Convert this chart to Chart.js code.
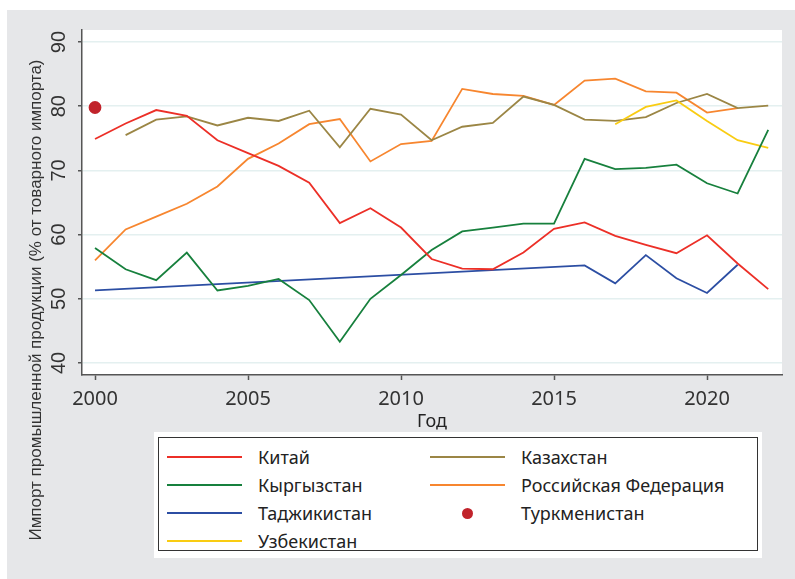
<!DOCTYPE html>
<html>
<head>
<meta charset="utf-8">
<script src="https://cdn.jsdelivr.net/npm/chart.js@4/dist/chart.umd.min.js"></script>
<style>
  body { margin: 0; background: #fff; }
  #wrap { position: relative; width: 795px; height: 579px; }
  #legend {
    position: absolute; left: 154px; top: 432px; width: 608px; height: 126px;
    background: #fff; box-sizing: border-box; padding: 5px 4px 7px 4px;
  }
  #legendBox {
    width: 100%; height: 100%; box-sizing: border-box; border: 1.5px solid #333;
    display: grid; grid-template-rows: repeat(4, 28px); grid-template-columns: 263px 1fr;
    grid-auto-flow: column; padding-top: 5px;
  }
  .item { display: flex; align-items: center; font: 18px "Noto Sans", sans-serif; color: #222; }
  .sample { width: 75px; margin-left: 8px; margin-right: 16px; display: flex; justify-content: center; }
  .line { width: 75px; height: 2px; }
  .dot { width: 11px; height: 11px; border-radius: 50%; }
</style>
</head>
<body>
<div id="wrap">
  <canvas id="chart" width="795" height="579"></canvas>
  <div id="legend"><div id="legendBox"></div></div>
</div>
<script>
const years = [2000, 2001, 2002, 2003, 2004, 2005, 2006, 2007, 2008, 2009, 2010, 2011,
  2012, 2013, 2014, 2015, 2016, 2017, 2018, 2019, 2020, 2021, 2022];
const xTicks = [2000, 2005, 2010, 2015, 2020];
const yTicks = [40, 50, 60, 70, 80, 90];

const china = [74.9, 77.3, 79.4, 78.5, 74.7, 72.7, 70.7, 68.1, 61.8, 64.1, 61.1, 56.2,
  54.7, 54.6, 57.2, 60.9, 61.9, 59.8, 58.4, 57.1, 59.9, 55.5, 51.5];
const kyrgyzstan = [57.9, 54.6, 52.9, 57.2, 51.3, 52.0, 53.1, 49.8, 43.3, 50.0, 53.7, 57.6,
  60.5, 61.1, 61.7, 61.7, 71.8, 70.2, 70.4, 70.9, 68.0, 66.4, 76.3];
const tajikistan = [51.3, null, null, null, null, null, null, null, null, null, null, null,
  null, null, null, null, 55.2, 52.4, 56.8, 53.2, 50.9, 55.3, null];
const uzbekistan = [null, null, null, null, null, null, null, null, null, null, null, null,
  null, null, null, null, null, 77.2, 79.9, 80.9, 77.7, 74.7, 73.5];
const kazakhstan = [null, 75.5, 77.9, 78.4, 77.0, 78.2, 77.7, 79.3, 73.6, 79.6, 78.7, 74.7,
  76.8, 77.4, 81.5, 80.2, 77.9, 77.7, 78.3, 80.5, 81.9, 79.7, 80.1];
const russia = [56.0, 60.8, 62.8, 64.8, 67.5, 71.8, 74.2, 77.2, 78.0, 71.4, 74.1, 74.6,
  82.7, 81.9, 81.6, 80.2, 84.0, 84.3, 82.3, 82.1, 79.0, 79.7, null];
const turkmenistan = [79.8];

const series = [
  { label: "Китай", values: china, color: "#ec2f27" },
  { label: "Кыргызстан", values: kyrgyzstan, color: "#17803d" },
  { label: "Таджикистан", values: tajikistan, color: "#2c4ea3" },
  { label: "Узбекистан", values: uzbekistan, color: "#f9cc12" },
  { label: "Казахстан", values: kazakhstan, color: "#9b8645" },
  { label: "Российская Федерация", values: russia, color: "#f7862f" },
  { label: "Туркменистан", values: turkmenistan, color: "#c1232b", dot: true },
];

const toPoints = (vals) => years.map((x, i) => ({ x, y: vals[i] ?? null }));

const datasets = series.map((s) => ({
  label: s.label,
  data: toPoints(s.values),
  borderColor: s.color,
  backgroundColor: s.color,
  borderWidth: 1.8,
  showLine: !s.dot,
  pointRadius: s.dot ? 5.5 : 0,
  pointHoverRadius: s.dot ? 5.5 : 0,
  spanGaps: true,
  tension: 0,
}));

const panelPlugin = {
  id: "panel",
  beforeDraw(chart) {
    const { ctx, chartArea } = chart;
    ctx.save();
    ctx.fillStyle = "#e6e7e9";
    ctx.fillRect(7, 10, 795 - 7, 579 - 10);
    ctx.fillStyle = "#fff";
    ctx.fillRect(chartArea.left, chartArea.top, chartArea.right - chartArea.left, chartArea.bottom - chartArea.top);
    ctx.restore();
  },
  afterDraw(chart) {
    const { ctx } = chart;
    ctx.save();
    ctx.translate(36, 300);
    ctx.rotate(-Math.PI / 2);
    ctx.fillStyle = "#333";
    ctx.font = '17px "Liberation Sans", sans-serif';
    ctx.textAlign = "center";
    ctx.textBaseline = "middle";
    ctx.fillText("Импорт промышленной продукции (% от товарного импорта)", 0, 0);
    ctx.restore();
  },
};

const chart = new Chart(document.getElementById("chart"), {
  type: "line",
  data: { datasets },
  plugins: [panelPlugin],
  options: {
    responsive: false,
    animation: false,
    layout: { padding: { left: 0, top: 30, right: 13, bottom: 144 } },
    plugins: { legend: { display: false }, tooltip: { enabled: false } },
    scales: {
      x: {
        type: "linear",
        min: 1999.575,
        max: 2022.45,
        afterBuildTicks: (scale) => { scale.ticks = xTicks.map((v) => ({ value: v })); },
        afterFit: (scale) => { scale.height = 60; },
        grid: { drawOnChartArea: false, drawTicks: true, tickLength: 5, tickColor: "#555", tickWidth: 1.5 },
        border: { color: "#555", width: 1.5 },
        ticks: { color: "#333", font: { family: "Noto Sans", size: 20 }, padding: 7, maxRotation: 0, callback: (v) => String(v) },
        title: { display: true, text: "Год", color: "#222", font: { family: "Noto Sans", size: 18 }, padding: { top: 0, bottom: 2 } },
      },
      y: {
        min: 38.13,
        max: 91.87,
        afterBuildTicks: (scale) => { scale.ticks = yTicks.map((v) => ({ value: v })); },
        afterFit: (scale) => { scale.width = 82; },
        grid: { color: "#e4f0f0", lineWidth: 1.5, tickLength: 4, tickColor: "#555", tickWidth: 1.5 },
        border: { color: "#555", width: 1.5 },
        ticks: { color: "#333", font: { family: "Liberation Sans", size: 20 }, padding: 7, minRotation: 90, maxRotation: 90, crossAlign: "center" },
      },
    },
  },
});

// legend drawn from the chart's datasets, two columns like the original
const box = document.getElementById("legendBox");
chart.data.datasets.forEach((ds, i) => {
  const item = document.createElement("div");
  item.className = "item";
  const sample = document.createElement("div");
  sample.className = "sample";
  const mark = document.createElement("div");
  mark.className = series[i].dot ? "dot" : "line";
  mark.style.background = ds.borderColor;
  sample.appendChild(mark);
  const txt = document.createElement("span");
  txt.textContent = ds.label;
  item.appendChild(sample);
  item.appendChild(txt);
  box.appendChild(item);
});
</script>
</body>
</html>
